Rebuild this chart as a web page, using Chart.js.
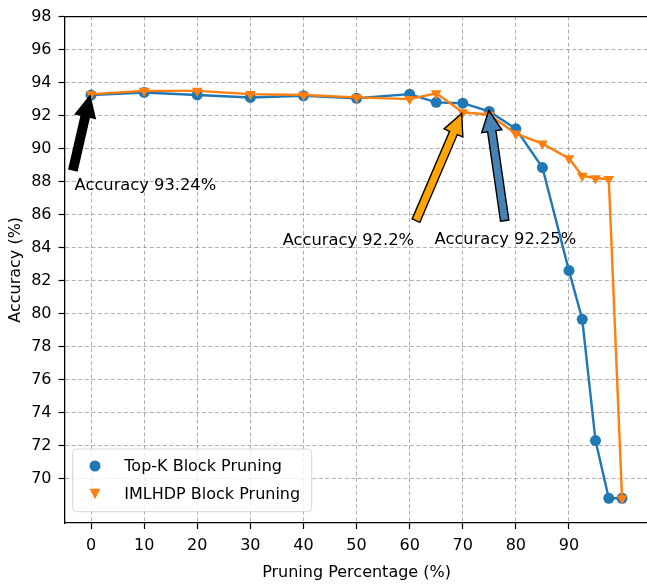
<!DOCTYPE html>
<html>
<head>
<meta charset="utf-8">
<script src="https://cdn.jsdelivr.net/npm/chart.js@4.4.1/dist/chart.umd.min.js"></script>
<style>
  html, body { margin: 0; padding: 0; background: #fff; overflow: hidden; }
  #wrap { width: 660px; height: 585px; }
</style>
</head>
<body>
<div id="wrap"><canvas id="accChart" width="660" height="585"></canvas></div>
<script>
// pruning ratio (%) and accuracy (%) for both methods
const pruning = [0, 10, 20, 30, 40, 50, 60, 65, 70, 75, 80, 85, 90, 92.5, 95, 97.5, 100];
const topKAcc = [93.24, 93.4, 93.25, 93.1, 93.2, 93.05, 93.3, 92.8, 92.75, 92.25, 91.2, 88.85, 82.6, 79.65, 72.3, 68.8, 68.8];
const imlhdpAcc = [93.3, 93.5, 93.5, 93.3, 93.25, 93.1, 93.0, 93.35, 92.2, 92.05, 90.9, 90.3, 89.4, 88.35, 88.2, 88.15, 68.8];

const xTicks = [0, 10, 20, 30, 40, 50, 60, 70, 80, 90];
const yTicks = [70, 72, 74, 76, 78, 80, 82, 84, 86, 88, 90, 92, 94, 96, 98];

const seriesNames = ['Top-K Block Pruning', 'IMLHDP Block Pruning'];

// callouts: arrow from tail to tip, label at its baseline start (data units)
const noteText = ['Accuracy 93.24%', 'Accuracy 92.2%', 'Accuracy 92.25%'];
const noteTip = [[-0.2, 93.2], [69.8, 92.12], [74.9, 92.31]];
const noteTail = [[-3.4, 88.7], [61.2, 85.63], [77.9, 85.63]];
const noteLabel = [[-3.1, 87.47], [36.1, 84.13], [64.7, 84.2]];
const noteFill = ['#000000', '#ffa500', '#4682b4'];

const BLUE = '#1f77b4';
const ORANGE = '#ff7f0e';
const FONT = 'DejaVu Sans';
const gridColor = 'rgba(120,120,120,0.75)';

Chart.defaults.font.family = FONT;
Chart.defaults.font.size = 16;
Chart.defaults.color = '#000';

function drawArrow(ctx, x0, y0, x1, y1, fill) {
  const len = Math.hypot(x1 - x0, y1 - y0);
  const ux = (x1 - x0) / len, uy = (y1 - y0) / len;
  const nx = -uy, ny = ux;
  const w = 4.2, hw = 10.2, hl = 21;
  const bx = x1 - ux * hl, by = y1 - uy * hl;
  ctx.beginPath();
  ctx.moveTo(x0 + nx * w, y0 + ny * w);
  ctx.lineTo(bx + nx * w, by + ny * w);
  ctx.lineTo(bx + nx * hw, by + ny * hw);
  ctx.lineTo(x1, y1);
  ctx.lineTo(bx - nx * hw, by - ny * hw);
  ctx.lineTo(bx - nx * w, by - ny * w);
  ctx.lineTo(x0 - nx * w, y0 - ny * w);
  ctx.closePath();
  ctx.fillStyle = fill;
  ctx.fill();
  ctx.lineWidth = 1.4;
  ctx.strokeStyle = '#000';
  ctx.lineJoin = 'miter';
  ctx.stroke();
}

const callouts = {
  id: 'callouts',
  afterDatasetsDraw(chart) {
    const { ctx, scales: { x, y } } = chart;
    ctx.save();
    noteText.forEach((txt, i) => {
      drawArrow(ctx,
        x.getPixelForValue(noteTail[i][0]), y.getPixelForValue(noteTail[i][1]),
        x.getPixelForValue(noteTip[i][0]), y.getPixelForValue(noteTip[i][1]),
        noteFill[i]);
      ctx.fillStyle = '#000';
      ctx.font = '16.3px "' + FONT + '"';
      ctx.textAlign = 'left';
      ctx.textBaseline = 'alphabetic';
      ctx.fillText(txt, x.getPixelForValue(noteLabel[i][0]), y.getPixelForValue(noteLabel[i][1]));
    });
    ctx.restore();
  }
};

// top spine plus the boxed legend in the lower-left corner
const frameAndLegend = {
  id: 'frameAndLegend',
  afterDraw(chart) {
    const { ctx, chartArea: a } = chart;
    ctx.save();
    ctx.strokeStyle = '#000';
    ctx.lineWidth = 1.3;
    ctx.beginPath();
    ctx.moveTo(a.left, a.top);
    ctx.lineTo(a.right, a.top);
    ctx.stroke();

    const bx = a.left + 8.2, bw = 239, bh = 62.7;
    const by = a.bottom - 11.3 - bh;
    ctx.beginPath();
    ctx.roundRect(bx, by, bw, bh, 4);
    ctx.fillStyle = 'rgba(255,255,255,0.8)';
    ctx.fill();
    ctx.strokeStyle = '#d6d6d6';
    ctx.lineWidth = 1;
    ctx.stroke();

    ctx.font = '16px "' + FONT + '"';
    ctx.textAlign = 'left';
    ctx.textBaseline = 'middle';
    chart.data.datasets.forEach((ds, i) => {
      const cy = by + 17 + i * 28;
      const cx = bx + 22.3;
      ctx.fillStyle = ds.borderColor;
      ctx.beginPath();
      if (ds.pointStyle === 'triangle') {
        ctx.moveTo(cx - 5.4, cy - 5.2);
        ctx.lineTo(cx + 5.4, cy - 5.2);
        ctx.lineTo(cx, cy + 5.2);
        ctx.closePath();
      } else {
        ctx.arc(cx, cy, 5.5, 0, Math.PI * 2);
      }
      ctx.fill();
      ctx.fillStyle = '#000';
      ctx.fillText(ds.label, bx + 51.6, cy + 1);
    });
    ctx.restore();
  }
};

const toPoints = vals => pruning.map((p, i) => ({ x: p, y: vals[i] }));

new Chart(document.getElementById('accChart'), {
  type: 'line',
  data: {
    datasets: [
      {
        label: seriesNames[0],
        data: toPoints(topKAcc),
        borderColor: BLUE,
        backgroundColor: BLUE,
        borderWidth: 2.4,
        pointStyle: 'circle',
        pointRadius: 5.5,
        pointBorderWidth: 0,
        tension: 0,
        order: 2
      },
      {
        label: seriesNames[1],
        data: toPoints(imlhdpAcc),
        borderColor: ORANGE,
        backgroundColor: ORANGE,
        borderWidth: 2.4,
        pointStyle: 'triangle',
        pointRotation: 180,
        pointRadius: 6.2,
        pointBorderWidth: 0,
        tension: 0,
        order: 1
      }
    ]
  },
  options: {
    responsive: false,
    animation: false,
    layout: { padding: { left: 0, top: 10, right: 11.4, bottom: 0 } },
    plugins: { legend: { display: false }, tooltip: { enabled: false } },
    scales: {
      x: {
        type: 'linear',
        min: -5,
        max: 105,
        afterBuildTicks: s => { s.ticks = xTicks.map(v => ({ value: v })); },
        afterFit: s => { s.height = 62; },
        grid: { color: gridColor, lineWidth: 0.8, tickLength: 6, tickColor: '#000', tickWidth: 1.2 },
        border: { color: '#000', width: 1.3, dash: [4, 2.5] },
        ticks: { color: '#000', padding: 7, maxRotation: 0, autoSkip: false },
        title: { display: true, text: 'Pruning Percentage (%)', color: '#000', padding: { top: 0, bottom: 3 } }
      },
      y: {
        type: 'linear',
        min: 67.3,
        max: 98,
        afterBuildTicks: s => { s.ticks = yTicks.map(v => ({ value: v })); },
        afterFit: s => { s.width = 64.5; },
        grid: { color: gridColor, lineWidth: 0.8, tickLength: 6, tickColor: '#000', tickWidth: 1.2 },
        border: { color: '#000', width: 1.3, dash: [4, 2.5] },
        ticks: { color: '#000', padding: 7, autoSkip: false },
        title: { display: true, text: 'Accuracy (%)', color: '#000', padding: { top: 6, bottom: 0 } }
      }
    }
  },
  plugins: [callouts, frameAndLegend]
});
</script>
</body>
</html>
